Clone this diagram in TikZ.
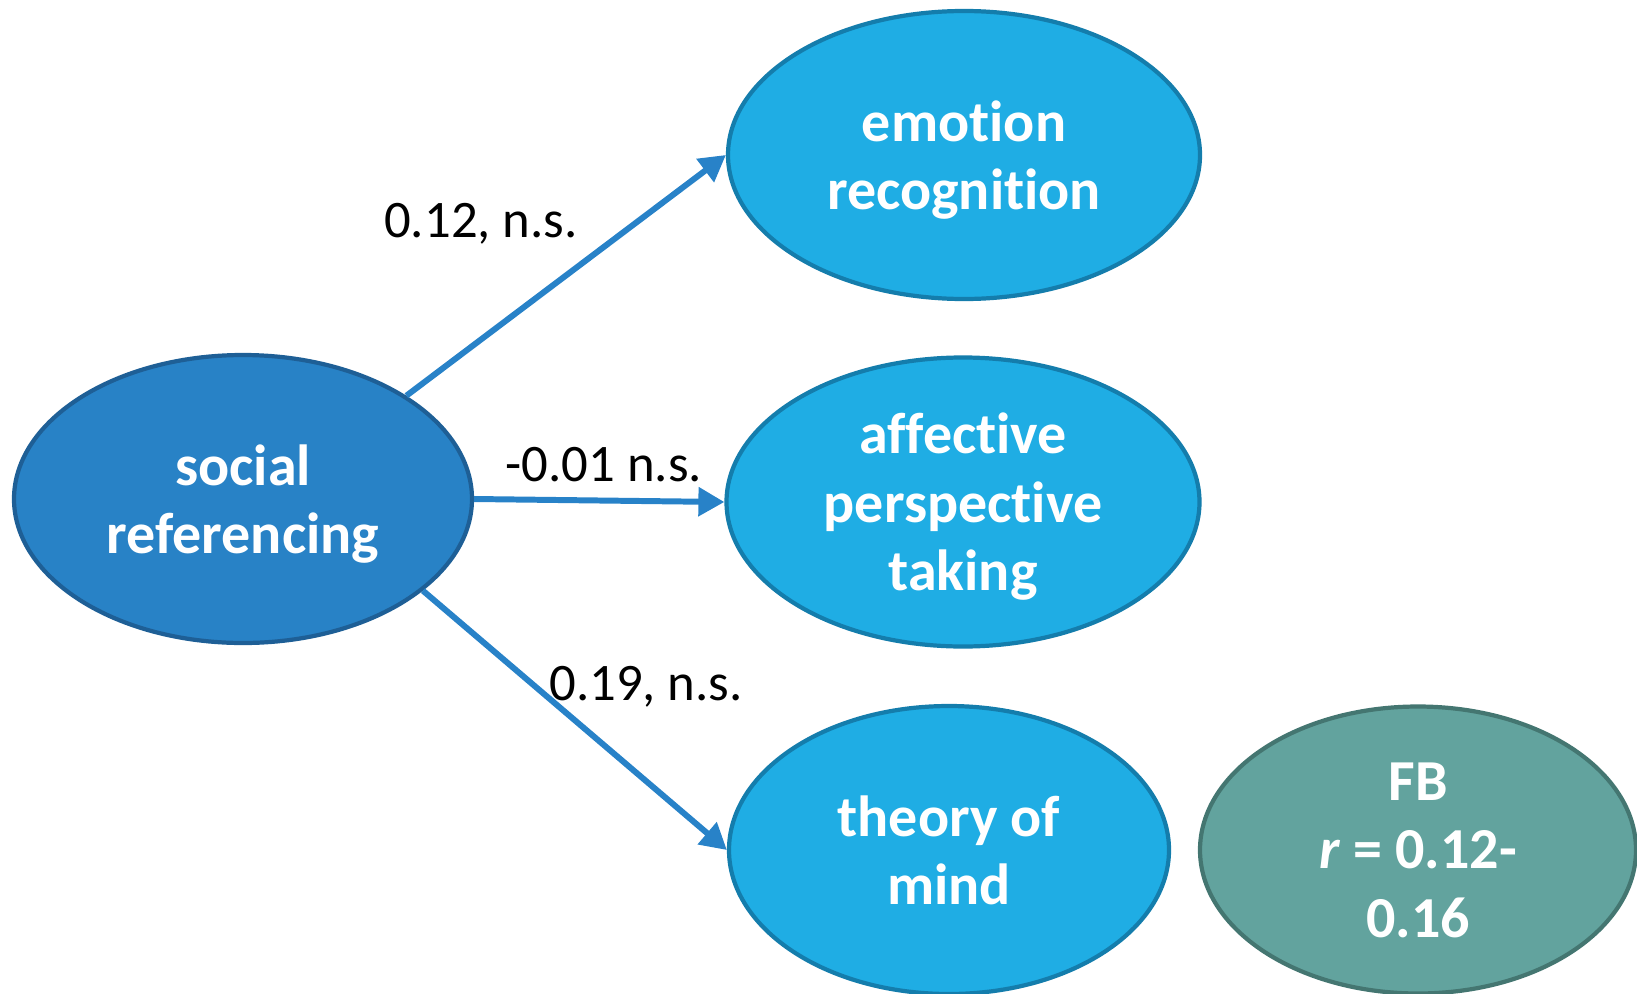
\documentclass[tikz,border=0pt]{standalone}
\usepackage{fontspec}
\setmainfont{Carlito}[Ligatures=NoCommon]
\usetikzlibrary{shapes.geometric,arrows.meta}

\definecolor{refblue}{RGB}{40,130,198}
\definecolor{refedge}{RGB}{30,95,150}
\definecolor{skyfill}{RGB}{31,173,228}
\definecolor{skyedge}{RGB}{20,125,172}
\definecolor{fbfill}{RGB}{98,163,158}
\definecolor{fbedge}{RGB}{68,118,113}
\definecolor{linkblue}{RGB}{40,130,200}

\begin{document}
\begin{tikzpicture}[
    bubble/.style={ellipse, draw=skyedge, fill=skyfill, line width=2.4pt,
        text=white, align=center, inner sep=0pt, text depth=0pt,
        font=\fontsize{33}{39}\selectfont\bfseries},
    link/.style={draw=linkblue, line width=3.4pt,
        -{Triangle[length=0.52cm,width=0.56cm]}},
    weight/.style={font=\fontsize{30}{36}\selectfont}
]
        \useasboundingbox (0,0) rectangle (32.74,-19.86);

        % Define the constructs
        \node[bubble, draw=refedge, fill=refblue,
              minimum width=9.16cm, minimum height=5.76cm]
              (social) at (4.86,-9.98) {social\\referencing};

        \node[bubble, minimum width=9.44cm, minimum height=5.76cm]
              (emotion) at (19.28,-3.10) {emotion\\recognition};
        \node[bubble, minimum width=9.46cm, minimum height=5.78cm]
              (affect) at (19.26,-10.04) {affective\\perspective\\taking};
        \node[bubble, minimum width=8.80cm, minimum height=5.76cm]
              (tom) at (18.98,-17.00) {theory of\\mind};

        \node[bubble, draw=fbedge, fill=fbfill,
              minimum width=8.72cm, minimum height=5.74cm]
              (fb) at (28.36,-17.00) {FB\\\textit{r} = 0.12-\\0.16};

        % Draw arrows
        \draw[link] (social.north east) -- (emotion.west);
        \draw[link] (social.east) -- (affect.west);
        \draw[link] (social.-27) -- (tom.west);

        % Path weights
        \node[weight] (w1) at (9.62,-4.48) {0.12, n.s.};
        \node[weight] (w2) at (12.08,-9.30) {-0.01 n.s.};
        \node[weight] (w3) at (12.92,-13.74) {0.19, n.s.};
    \end{tikzpicture}
\end{document}
